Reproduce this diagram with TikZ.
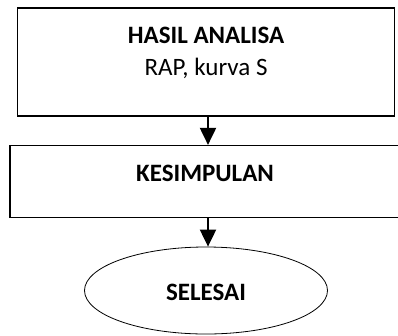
\documentclass[tikz,border=0pt]{standalone}
\usepackage{fontspec}
\setmainfont{Carlito}
\usetikzlibrary{arrows.meta,shapes.geometric}
\begin{document}
\begin{tikzpicture}[x=1pt,y=1pt,
  kotak/.style={draw,line width=1.2pt,rectangle,align=center,inner sep=0pt},
  oval/.style={draw,line width=0.8pt,ellipse,inner sep=0pt},
  panah/.style={line width=2pt,-{Triangle[length=17pt,width=16pt]}}]
\useasboundingbox (0,0) rectangle (398,-335);
\def\fs{\fontsize{25}{32}\selectfont}

% langkah akhir
\node[kotak,minimum width=377pt,minimum height=108pt,text depth=21pt,font=\fs]
  (hasil) at (206,-62) {\textbf{HASIL ANALISA}\\RAP, kurva S};
\node[kotak,minimum width=390pt,minimum height=72pt,text depth=17pt,font=\fs\bfseries]
  (simpul) at (205,-181.5) {KESIMPULAN};
\node[oval,minimum width=243pt,minimum height=87pt,text height=19pt,text depth=0pt,font=\fs\bfseries]
  (selesai) at (206,-290.5) {SELESAI};

%panah antar langkah:
\draw[panah] (hasil.south -| 208,0) -- (simpul.north -| 208,0);
\draw[panah] (simpul.south -| 208,0) -- (selesai.north -| 208,0);
\end{tikzpicture}
\end{document}
